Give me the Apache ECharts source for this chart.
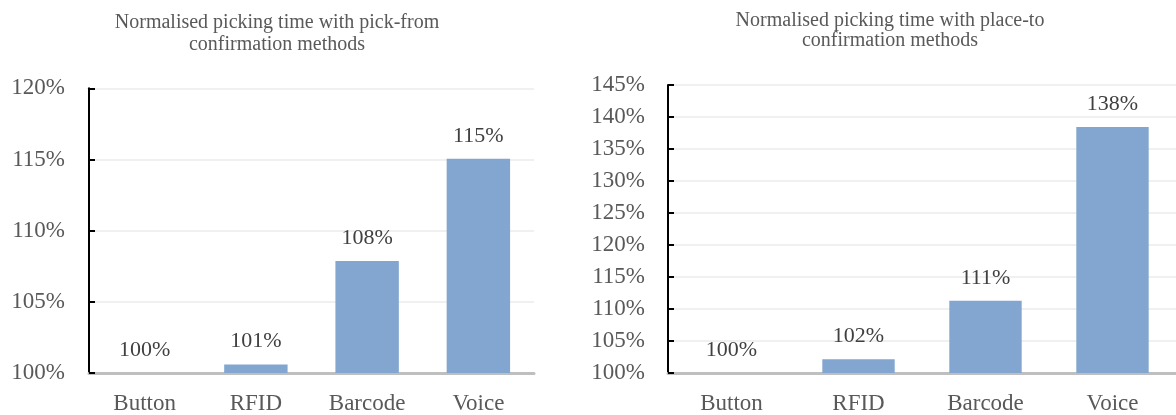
<!DOCTYPE html>
<html>
<head>
<meta charset="utf-8">
<script src="https://cdn.jsdelivr.net/npm/echarts@6/dist/echarts.min.js"></script>
<style>
html,body{margin:0;padding:0;background:#fff;}
#chart{width:1176px;height:415px;}
</style>
</head>
<body>
<div id="chart"></div>
<script>
// ---- data ----
const categories = ['Button', 'RFID', 'Barcode', 'Voice'];
const pickFromValues = [100, 100.6, 107.86, 115.05];
const placeToValues = [100, 102.16, 111.27, 138.43];
const pickFromTicks = [100, 105, 110, 115, 120];
const placeToTicks = [100, 105, 110, 115, 120, 125, 130, 135, 140, 145];
const pickFromTitle = 'Normalised picking time with pick-from\nconfirmation methods';
const placeToTitle = 'Normalised picking time with place-to\nconfirmation methods';

// ---- styling ----
const FONT = '"Liberation Serif", "Times New Roman", serif';
const BAR_COLOR = '#82A6CF';
const TICK_COLOR = '#595959';
const LABEL_COLOR = '#404040';

function yAxisFor(ticks, gridIndex, margin) {
  return {
    type: 'value',
    gridIndex: gridIndex,
    min: ticks[0],
    max: ticks[ticks.length - 1],
    interval: ticks[1] - ticks[0],
    axisLine: { show: true, lineStyle: { color: '#000', width: 2 } },
    axisTick: { show: true, inside: true, length: 6, lineStyle: { color: '#000', width: 2 } },
    splitLine: { show: true, lineStyle: { color: '#EBEBEB', width: 1.5 } },
    axisLabel: {
      formatter: '{value}%',
      color: TICK_COLOR,
      fontFamily: FONT,
      fontSize: 23,
      margin: margin
    }
  };
}

function xAxisFor(gridIndex) {
  return {
    type: 'category',
    gridIndex: gridIndex,
    data: categories,
    axisLine: { show: true, lineStyle: { color: '#BFBFBF', width: 3 } },
    axisTick: { show: false },
    axisLabel: {
      color: TICK_COLOR,
      fontFamily: FONT,
      fontSize: 23,
      margin: 19,
      interval: 0
    }
  };
}

function barSeries(values, idx) {
  return {
    type: 'bar',
    xAxisIndex: idx,
    yAxisIndex: idx,
    data: values,
    barWidth: '57%',
    itemStyle: { color: BAR_COLOR },
    label: {
      show: true,
      position: 'top',
      distance: 12,
      color: LABEL_COLOR,
      fontFamily: FONT,
      fontSize: 22,
      formatter: p => Math.round(p.value) + '%'
    },
    emphasis: { disabled: true },
    animation: false
  };
}

const chart = echarts.init(document.getElementById('chart'), null, { renderer: 'canvas' });
chart.setOption({
  backgroundColor: '#fff',
  animation: false,
  title: [
    {
      text: pickFromTitle,
      left: 277,
      top: 12,
      padding: 0,
      textAlign: 'center',
      textStyle: { fontFamily: FONT, fontSize: 20, fontWeight: 'normal', color: TICK_COLOR, lineHeight: 21.5 }
    },
    {
      text: placeToTitle,
      left: 890,
      top: 10,
      padding: 0,
      textAlign: 'center',
      textStyle: { fontFamily: FONT, fontSize: 20, fontWeight: 'normal', color: TICK_COLOR, lineHeight: 20.5 }
    }
  ],
  grid: [
    { left: 89, top: 88.3, width: 445, height: 286.2, containLabel: false },
    { left: 668, top: 85, width: 512.5, height: 291.7, containLabel: false }
  ],
  xAxis: [xAxisFor(0), xAxisFor(1)],
  yAxis: [yAxisFor(pickFromTicks, 0, 24), yAxisFor(placeToTicks, 1, 23)],
  series: [barSeries(pickFromValues, 0), barSeries(placeToValues, 1)]
});
</script>
</body>
</html>
